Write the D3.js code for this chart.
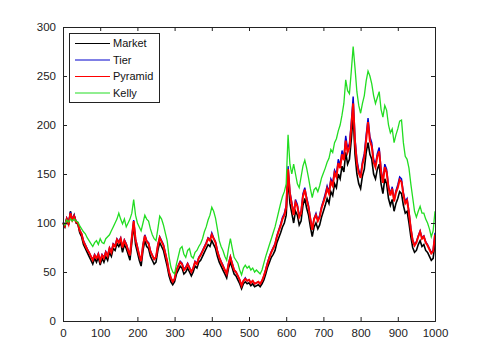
<!DOCTYPE html>
<html>
<head>
<meta charset="utf-8">
<script src="https://cdn.jsdelivr.net/npm/d3@7"></script>
<style>
body { margin: 0; background: #fff; }
text { font-family: "Liberation Sans", Arial, sans-serif; }
</style>
</head>
<body>
<svg id="chart" width="480" height="360"></svg>
<script>
// values, one point every 5 steps
var step = 5;

var market = [100, 96, 104, 98, 112, 102, 108, 100, 99, 90,
    86, 78, 74, 70, 66, 62, 58, 64, 60, 65,
    57, 64, 60, 66, 62, 70, 66, 74, 72, 79,
    76, 80, 70, 78, 74, 68, 62, 80, 98, 78,
    70, 62, 56, 72, 82, 76, 74, 66, 62, 58,
    60, 72, 80, 76, 72, 64, 56, 46, 40, 37,
    40, 48, 52, 56, 54, 48, 50, 54, 50, 46,
    50, 56, 54, 60, 62, 66, 70, 74, 78, 76,
    82, 78, 74, 66, 60, 56, 52, 48, 44, 54,
    60, 54, 48, 46, 42, 38, 33, 38, 40, 38,
    39, 36, 38, 35, 36, 37, 35, 38, 42, 48,
    55, 60, 65, 68, 72, 80, 85, 90, 96, 100,
    108, 145, 120, 110, 100, 112, 108, 98, 102, 118,
    125, 115, 108, 96, 86, 96, 100, 94, 98, 106,
    112, 118, 125, 120, 132, 128, 140, 136, 150, 145,
    158, 152, 172, 160, 165, 185, 210, 170, 150, 140,
    135, 148, 155, 172, 182, 170, 165, 150, 145, 155,
    160, 140, 130, 145, 140, 125, 118, 124, 112, 120,
    125, 132, 130, 118, 110, 112, 100, 86, 75, 70,
    72, 78, 82, 76, 78, 72, 70, 66, 62, 64, 80];

var tier = [101, 98, 105, 100, 111, 104, 108, 102, 100, 93,
    89, 82, 78, 74, 70, 66, 63, 68, 64, 69,
    62, 68, 65, 71, 67, 75, 71, 79, 77, 84,
    81, 85, 76, 83, 79, 73, 67, 86, 103, 84,
    76, 67, 61, 78, 88, 82, 80, 72, 67, 63,
    65, 78, 86, 82, 78, 70, 61, 50, 44, 40,
    43, 52, 57, 61, 59, 53, 55, 59, 55, 50,
    54, 61, 59, 65, 68, 72, 76, 80, 85, 83,
    90, 85, 81, 72, 65, 61, 57, 52, 48, 59,
    66, 59, 52, 50, 46, 42, 36, 41, 44, 41,
    42, 39, 41, 38, 39, 40, 38, 41, 46, 53,
    60, 66, 71, 75, 79, 87, 93, 99, 106, 110,
    118, 158, 132, 121, 110, 124, 119, 108, 112, 130,
    136, 126, 118, 105, 94, 105, 110, 103, 108, 117,
    123, 130, 138, 132, 145, 141, 154, 150, 165, 159,
    174, 167, 189, 176, 181, 203, 229, 187, 165, 154,
    149, 163, 171, 190, 207, 188, 182, 165, 160, 171,
    177, 155, 143, 160, 155, 138, 130, 137, 124, 133,
    139, 147, 145, 131, 122, 125, 112, 95, 83, 78,
    81, 87, 92, 85, 87, 81, 78, 74, 70, 72, 90];

var pyramid = [100, 97, 104, 99, 110, 103, 107, 101, 100, 92,
    89, 81, 77, 73, 70, 66, 62, 67, 64, 68,
    61, 67, 64, 70, 66, 74, 70, 78, 76, 83,
    80, 84, 75, 82, 78, 72, 67, 85, 102, 83,
    75, 67, 61, 77, 87, 81, 79, 71, 67, 63,
    65, 77, 85, 81, 77, 69, 61, 50, 44, 40,
    43, 52, 56, 60, 58, 52, 54, 58, 54, 50,
    54, 60, 58, 64, 67, 71, 75, 79, 84, 82,
    88, 84, 80, 71, 65, 60, 56, 52, 48, 58,
    65, 58, 52, 50, 46, 42, 36, 41, 43, 41,
    42, 39, 41, 38, 39, 40, 38, 41, 46, 52,
    59, 65, 70, 74, 78, 86, 92, 97, 104, 108,
    116, 155, 130, 119, 108, 121, 117, 106, 110, 127,
    134, 124, 116, 104, 93, 104, 108, 102, 106, 115,
    121, 127, 135, 130, 142, 138, 151, 147, 161, 156,
    170, 164, 184, 172, 177, 198, 222, 182, 161, 151,
    146, 160, 167, 185, 203, 184, 178, 162, 157, 168,
    173, 152, 141, 157, 152, 136, 128, 135, 122, 131,
    136, 144, 142, 129, 120, 123, 110, 94, 82, 77,
    80, 86, 91, 84, 86, 80, 77, 73, 69, 71, 88];

var kelly = [100, 98, 103, 101, 104, 102, 104, 102, 101, 97,
    94, 91, 89, 85, 82, 79, 76, 80, 82, 78,
    84, 80, 79, 84, 86, 88, 92, 96, 100, 104,
    110, 104, 99, 104, 96, 100, 104, 110, 124, 108,
    100, 96, 92, 100, 108, 104, 102, 94, 88, 84,
    82, 94, 107, 104, 98, 90, 82, 66, 55, 50,
    48, 58, 66, 74, 76, 68, 65, 72, 74, 66,
    64, 70, 72, 76, 79, 84, 91, 96, 103, 108,
    116, 112, 105, 94, 82, 76, 72, 66, 62, 74,
    84, 74, 65, 62, 59, 52, 47, 54, 57, 54,
    56, 52, 54, 50, 52, 50, 48, 52, 59, 66,
    72, 78, 84, 90, 96, 104, 112, 120, 127, 132,
    140, 190, 160, 150, 160, 150, 140, 136, 147, 158,
    164, 156, 146, 135, 126, 134, 136, 132, 138, 146,
    151, 156, 162, 166, 175, 172, 182, 186, 194, 200,
    210, 222, 246, 235, 232, 255, 280, 258, 234, 220,
    212, 222, 230, 245, 255, 250, 242, 230, 222, 228,
    234, 216, 208, 220, 215, 200, 192, 196, 182, 190,
    196, 204, 205, 182, 168, 165, 156, 140, 126, 112,
    106, 112, 117, 110, 110, 104, 100, 94, 86, 92, 112];

var names = ["Market", "Tier", "Pyramid", "Kelly"];
var colors = ["#000000", "#0000cc", "#ff0000", "#22dd22"];
var widths = [1.6, 1.4, 2, 1.3];
var xTicks = [0, 100, 200, 300, 400, 500, 600, 700, 800, 900, 1000];
var yTicks = [0, 50, 100, 150, 200, 250, 300];

var pLeft = 63, pRight = 435, pTop = 27, pBottom = 321;

var svg = d3.select("#chart");

var x = d3.scaleLinear().domain([0, 1000]).range([pLeft, pRight]);
var y = d3.scaleLinear().domain([0, 300]).range([pBottom, pTop]);

var line = d3.line()
    .x(function(d, i) { return x(i * step); })
    .y(function(d) { return y(d); });

var series = [market, tier, pyramid, kelly];

svg.selectAll("path.series")
    .data(series)
    .enter()
    .append("path")
    .attr("class", "series")
    .attr("d", line)
    .attr("fill", "none")
    .attr("stroke", function(d, i) { return colors[i]; })
    .attr("stroke-width", function(d, i) { return widths[i]; })
    .attr("stroke-linejoin", "miter");

// axes with inward ticks on all four sides, matlab style
var axColor = "#222";
svg.append("g")
    .attr("transform", "translate(0," + pBottom + ")")
    .call(d3.axisBottom(x).tickValues(xTicks).tickSize(-4).tickPadding(8).tickFormat(d3.format("d")))
    .call(styleAxis);
svg.append("g")
    .attr("transform", "translate(0," + pTop + ")")
    .call(d3.axisTop(x).tickValues(xTicks).tickSize(-4).tickFormat(""))
    .call(styleAxis);
svg.append("g")
    .attr("transform", "translate(" + pLeft + ",0)")
    .call(d3.axisLeft(y).tickValues(yTicks).tickSize(-4).tickPadding(7))
    .call(styleAxis);
svg.append("g")
    .attr("transform", "translate(" + pRight + ",0)")
    .call(d3.axisRight(y).tickValues(yTicks).tickSize(-4).tickFormat(""))
    .call(styleAxis);

function styleAxis(g) {
    g.selectAll(".domain").attr("stroke", axColor).attr("stroke-width", 1);
    g.selectAll(".tick line").attr("stroke", axColor);
    g.selectAll(".tick text")
        .attr("fill", "#222")
        .style("font-size", "11.5px")
        .style("font-family", "'Liberation Sans', Arial, sans-serif");
}

// legend
var leg = svg.append("g").attr("transform", "translate(69,33)");
leg.append("rect")
    .attr("x", 0.5)
    .attr("y", 0.5)
    .attr("width", 90)
    .attr("height", 69)
    .attr("fill", "#fff")
    .attr("stroke", "#222");

var item = leg.selectAll("g.item")
    .data(names)
    .enter()
    .append("g")
    .attr("class", "item")
    .attr("transform", function(d, i) { return "translate(0," + (10.5 + i * 16.5) + ")"; });

item.append("line")
    .attr("x1", 6)
    .attr("x2", 41)
    .attr("stroke", function(d, i) { return colors[i]; })
    .attr("stroke-width", 1);

item.append("text")
    .attr("x", 44)
    .attr("dy", "0.35em")
    .style("font-size", "11px")
    .attr("fill", "#111")
    .text(function(d) { return d; });
</script>
</body>
</html>
